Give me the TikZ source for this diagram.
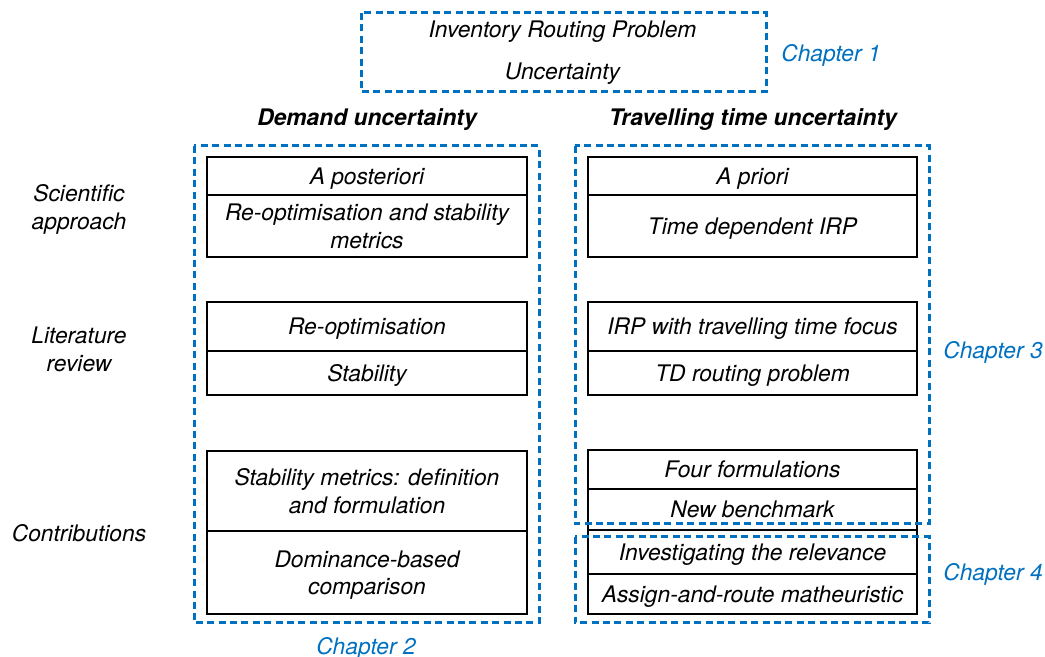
\documentclass[tikz,border=0pt]{standalone}
\usepackage{fontspec}
\setmainfont{TeX Gyre Heros}
\usepackage{tikz}

\definecolor{chapblue}{RGB}{0,112,192}
\tikzset{
  cell/.style={draw, line width=1pt, inner sep=0pt, align=center},
  leftcell/.style={cell, minimum width=160pt},
  rightcell/.style={cell, minimum width=164.5pt},
  chapframe/.style={draw=chapblue, line width=1.5pt, dash pattern=on 3.5pt off 2.2pt},
  chaplabel/.style={text=chapblue},
  rowlabel/.style={align=center},
}

\begin{document}
\begin{tikzpicture}[x=0.5pt, y=-0.5pt, every node/.style={font=\fontsize{11.4}{13.8}\selectfont\itshape, text depth=0pt}]
    \useasboundingbox (0, 0) rectangle (1045, 657);

    % chapter 1
    \node (irp) at (562.5, 29) {Inventory Routing Problem};
    \node (unc) at (562.5, 71) {Uncertainty};
    \node [chaplabel] (ch1) at (831, 53) {Chapter 1};

    % column heads
    \node [font=\fontsize{11.4}{13.8}\selectfont\bfseries\itshape] (dem) at (367, 117) {Demand uncertainty};
    \node [font=\fontsize{11.4}{13.8}\selectfont\bfseries\itshape] (trav) at (753, 117) {Travelling time uncertainty};

    % row labels
    \node [rowlabel] (sci) at (79, 207) {Scientific\\approach};
    \node [rowlabel] (lit) at (79, 349) {Literature\\review};
    \node [rowlabel] (con) at (79, 533) {Contributions};

    % demand column
    \node [leftcell, minimum height=19pt] (lap) at (367, 176) {A posteriori};
    \node [leftcell, minimum height=31pt] (lrs) at (367, 226) {Re-optimisation and stability\\metrics};
    \node [leftcell, minimum height=24.5pt] (lro) at (367, 326.5) {Re-optimisation};
    \node [leftcell, minimum height=22pt] (lst) at (367, 373) {Stability};
    \node [leftcell, minimum height=40pt] (lsm) at (367, 491) {Stability metrics: definition\\and formulation};
    \node [leftcell, minimum height=41.5pt] (ldc) at (367, 572.5) {Dominance-based\\comparison};

    % travelling time column
    \node [rightcell, minimum height=19pt] (rap) at (752.5, 176) {A priori};
    \node [rightcell, minimum height=31pt] (rtd) at (752.5, 226) {Time dependent IRP};
    \node [rightcell, minimum height=24.5pt] (rir) at (752.5, 326.5) {IRP with travelling time focus};
    \node [rightcell, minimum height=22pt] (rtr) at (752.5, 373) {TD routing problem};
    \node [rightcell, minimum height=19.5pt] (rff) at (752.5, 469.5) {Four formulations};
    \node [rightcell, minimum height=20.5pt] (rnb) at (752.5, 509.5) {New benchmark};
    \node [rightcell, minimum height=22pt] (rin) at (752.5, 552) {Investigating the relevance};
    \node [rightcell, minimum height=20pt] (rar) at (752.5, 594) {Assign-and-route matheuristic};

    % chapter frames
    \draw [chapframe] (361, 13) rectangle (766, 92);
    \draw [chapframe] (194, 146) rectangle (539, 623);
    \draw [chapframe] (575, 146) rectangle (929, 524);
    \draw [chapframe] (575, 537) rectangle (929, 623);
    \node [chaplabel] (ch2) at (366, 646) {Chapter 2};
    \node [chaplabel] (ch3) at (993, 350) {Chapter 3};
    \node [chaplabel] (ch4) at (993, 572) {Chapter 4};
  \end{tikzpicture}
\end{document}
